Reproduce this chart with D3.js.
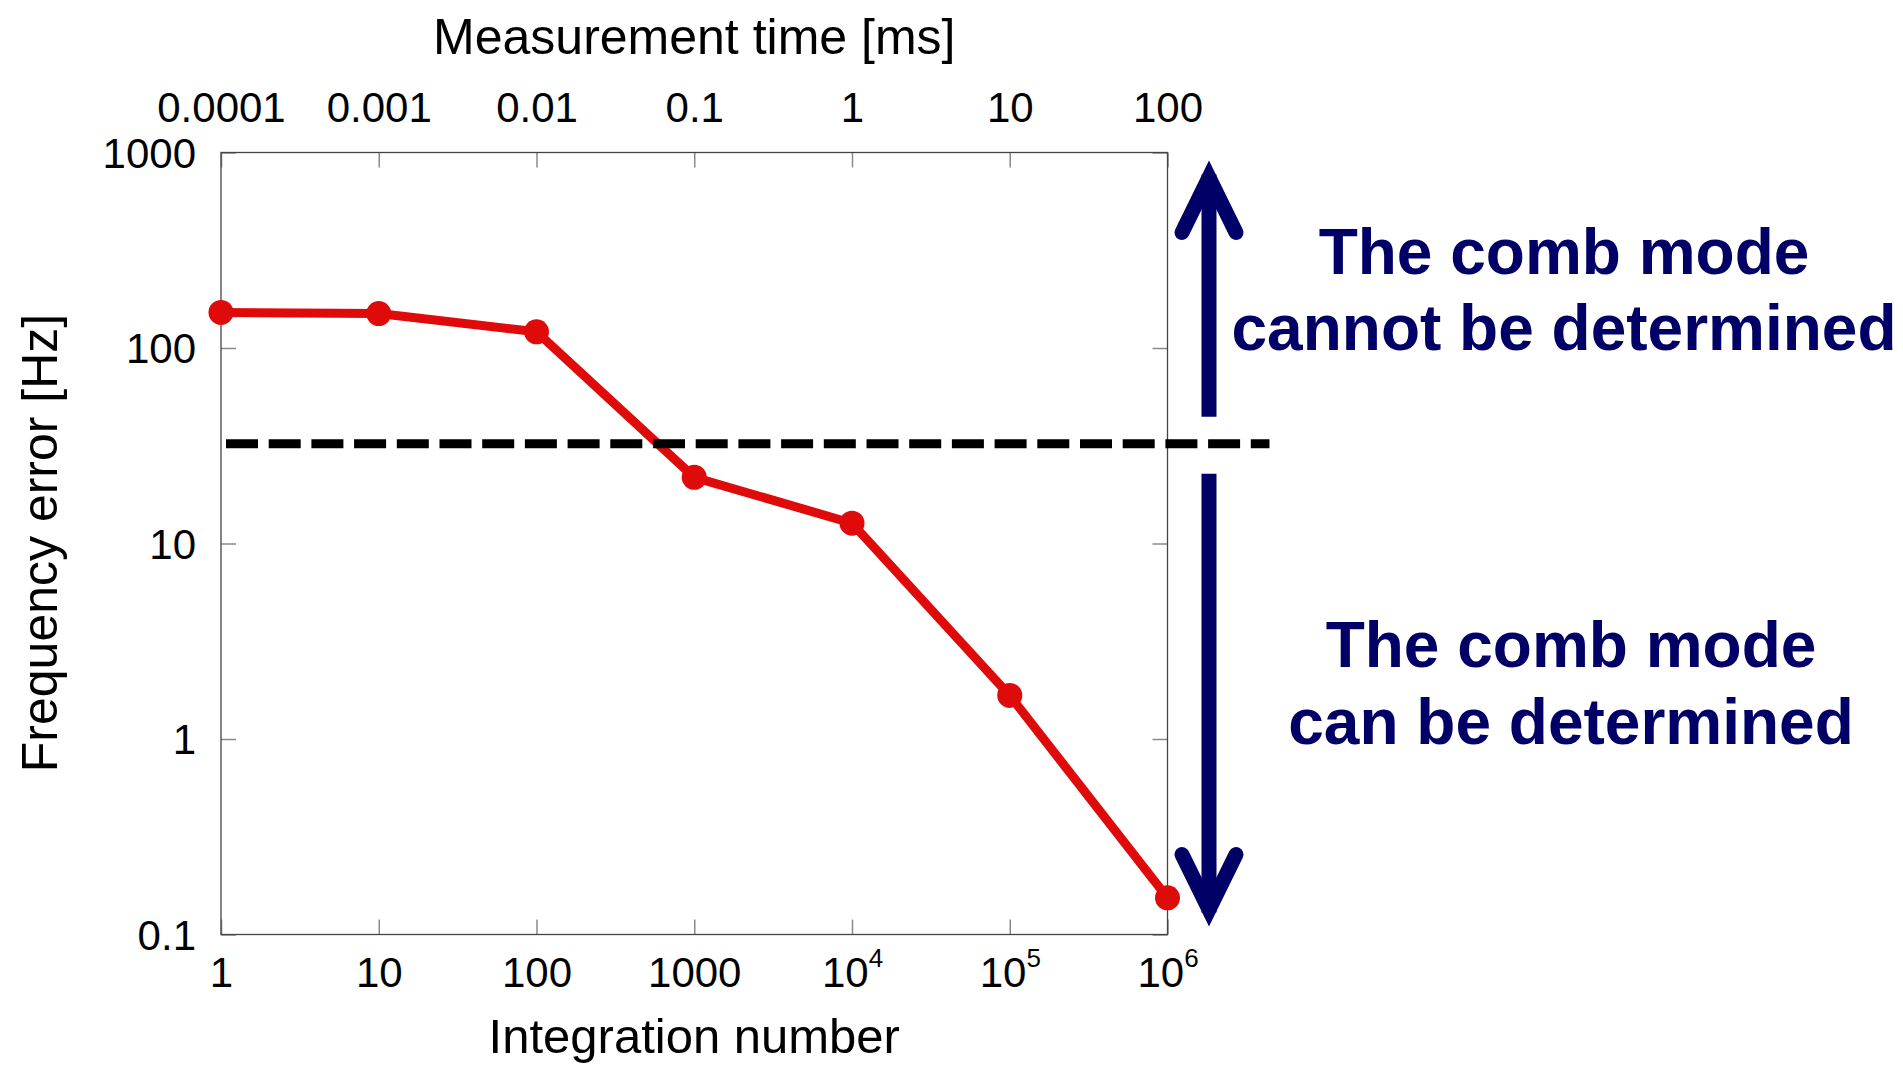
<!DOCTYPE html>
<html>
<head>
<meta charset="utf-8">
<script src="https://cdn.jsdelivr.net/npm/d3@7"></script>
<style>
  html, body { margin: 0; padding: 0; background: #ffffff; }
  svg { display: block; }
  .tick-label { font-family: "Liberation Sans", Arial, sans-serif; fill: #000; }
</style>
</head>
<body>
<svg id="chart" width="1903" height="1065"></svg>
<script>
// Integration number vs. frequency error of the comb-mode estimate
const integration = [1, 10, 100, 1000, 1e4, 1e5, 1e6];
const freqError = [152, 150, 121, 21.8, 12.7, 1.67, 0.154];
const threshold = 32.4;

const xTicks = [1, 10, 100, 1000, 1e4, 1e5, 1e6];
const xTickBase = ["1", "10", "100", "1000", "10", "10", "10"];
const xTickExp = ["", "", "", "", "4", "5", "6"];

const timeTicks = [0.0001, 0.001, 0.01, 0.1, 1, 10, 100];
const timeTickLabels = ["0.0001", "0.001", "0.01", "0.1", "1", "10", "100"];

const yTicks = [0.1, 1, 10, 100, 1000];
const yTickLabels = ["0.1", "1", "10", "100", "1000"];

const upperNote = ["The comb mode", "cannot be determined"];
const lowerNote = ["The comb mode", "can be determined"];

const RED = "#df0a0a";
const NAVY = "#000066";
const FONT = "'Liberation Sans', Arial, sans-serif";

const plot = { left: 221, right: 1167.5, top: 152.5, bottom: 934.5 };

const svg = d3.select("#chart");

const x = d3.scaleLog().domain([1, 1e6]).range([plot.left, plot.right]);
const xTime = d3.scaleLog().domain([1e-4, 100]).range([plot.left, plot.right]);
const y = d3.scaleLog().domain([0.1, 1000]).range([plot.bottom, plot.top]);

// ---- axes (ticks point inward on all four sides) ----
const tickLen = 15;

function styleAxis(g) {
  g.select(".domain").remove();
  g.selectAll(".tick line").attr("stroke", "#8a8a8a").attr("stroke-width", 1.5);
  g.selectAll(".tick text").attr("class", "tick-label").attr("font-family", FONT).attr("font-size", 42);
}

// bottom: integration number
const gBottom = svg.append("g")
  .attr("transform", `translate(0,${plot.bottom})`)
  .call(d3.axisBottom(x).tickValues(xTicks).tickSize(-tickLen).tickFormat(() => ""));
styleAxis(gBottom);
gBottom.selectAll(".tick text").each(function (d, i) {
  const t = d3.select(this).attr("dy", null).attr("y", 52.2).text(null);
  t.append("tspan").text(xTickBase[i]);
  if (xTickExp[i]) {
    t.append("tspan").attr("font-size", 26).attr("dy", -20).text(xTickExp[i]);
  }
});

// top: measurement time
const gTop = svg.append("g")
  .attr("transform", `translate(0,${plot.top})`)
  .call(d3.axisTop(xTime).tickValues(timeTicks).tickSize(-tickLen).tickFormat((d, i) => timeTickLabels[i]));
styleAxis(gTop);
gTop.selectAll(".tick text").attr("dy", null).attr("y", 121.7 - plot.top);

// left: frequency error
const gLeft = svg.append("g")
  .attr("transform", `translate(${plot.left},0)`)
  .call(d3.axisLeft(y).tickValues(yTicks).tickSize(-tickLen).tickFormat((d, i) => yTickLabels[i]));
styleAxis(gLeft);
gLeft.selectAll(".tick text").attr("x", -25).attr("dy", "0.35em");

// right: ticks only
const gRight = svg.append("g")
  .attr("transform", `translate(${plot.right},0)`)
  .call(d3.axisRight(y).tickValues(yTicks).tickSize(-tickLen).tickFormat(() => ""));
styleAxis(gRight);

// plot frame
svg.append("rect")
  .attr("x", plot.left).attr("y", plot.top)
  .attr("width", plot.right - plot.left).attr("height", plot.bottom - plot.top)
  .attr("fill", "none").attr("stroke", "#444").attr("stroke-width", 1.3);

// axis titles
svg.append("text")
  .attr("x", (plot.left + plot.right) / 2).attr("y", 54)
  .attr("text-anchor", "middle").attr("font-family", FONT).attr("font-size", 50)
  .text("Measurement time [ms]");

svg.append("text")
  .attr("x", (plot.left + plot.right) / 2).attr("y", 1053)
  .attr("text-anchor", "middle").attr("font-family", FONT).attr("font-size", 49)
  .text("Integration number");

svg.append("text")
  .attr("transform", `translate(57,543) rotate(-90)`)
  .attr("text-anchor", "middle").attr("font-family", FONT).attr("font-size", 50)
  .text("Frequency error [Hz]");

// ---- data series ----
const pts = integration.map((n, i) => [n, freqError[i]]);

svg.append("path")
  .datum(pts)
  .attr("fill", "none").attr("stroke", RED).attr("stroke-width", 9)
  .attr("stroke-linejoin", "round")
  .attr("d", d3.line().x(d => x(d[0])).y(d => y(d[1])));

svg.append("g").selectAll("circle")
  .data(pts).join("circle")
  .attr("cx", d => x(d[0])).attr("cy", d => y(d[1])).attr("r", 12.5)
  .attr("fill", RED);

// threshold line
svg.append("line")
  .attr("x1", plot.left + 5).attr("x2", plot.right + 102)
  .attr("y1", y(threshold)).attr("y2", y(threshold))
  .attr("stroke", "#000").attr("stroke-width", 9)
  .attr("stroke-dasharray", "32 10.7");

// ---- region arrows ----
const ax = plot.right + 41.5;
const ty = y(threshold);
const arrowW = 15;

function arrow(fromY, apexY, dir) {
  // shaft
  svg.append("line")
    .attr("x1", ax).attr("x2", ax)
    .attr("y1", fromY).attr("y2", apexY + dir * 3)
    .attr("stroke", NAVY).attr("stroke-width", arrowW);
  // open chevron head
  const armDy = -dir * 55, armDx = 27;
  svg.append("path")
    .attr("d", `M${ax - armDx},${apexY + armDy} L${ax},${apexY} L${ax + armDx},${apexY + armDy}`)
    .attr("fill", "none").attr("stroke", NAVY).attr("stroke-width", arrowW)
    .attr("stroke-linecap", "round").attr("stroke-linejoin", "miter").attr("stroke-miterlimit", 10);
}
arrow(ty - 27, plot.top + 25, -1);
arrow(ty + 30, plot.bottom - 25, 1);

// ---- region notes ----
function note(lines, cx, baselines) {
  lines.forEach((s, i) => {
    svg.append("text")
      .attr("x", cx).attr("y", baselines[i])
      .attr("text-anchor", "middle")
      .attr("font-family", FONT).attr("font-weight", "bold").attr("font-size", 64)
      .attr("fill", NAVY)
      .text(s);
  });
}
note(upperNote, 1564, [274, 350]);
note(lowerNote, 1571, [667, 744]);
</script>
</body>
</html>
